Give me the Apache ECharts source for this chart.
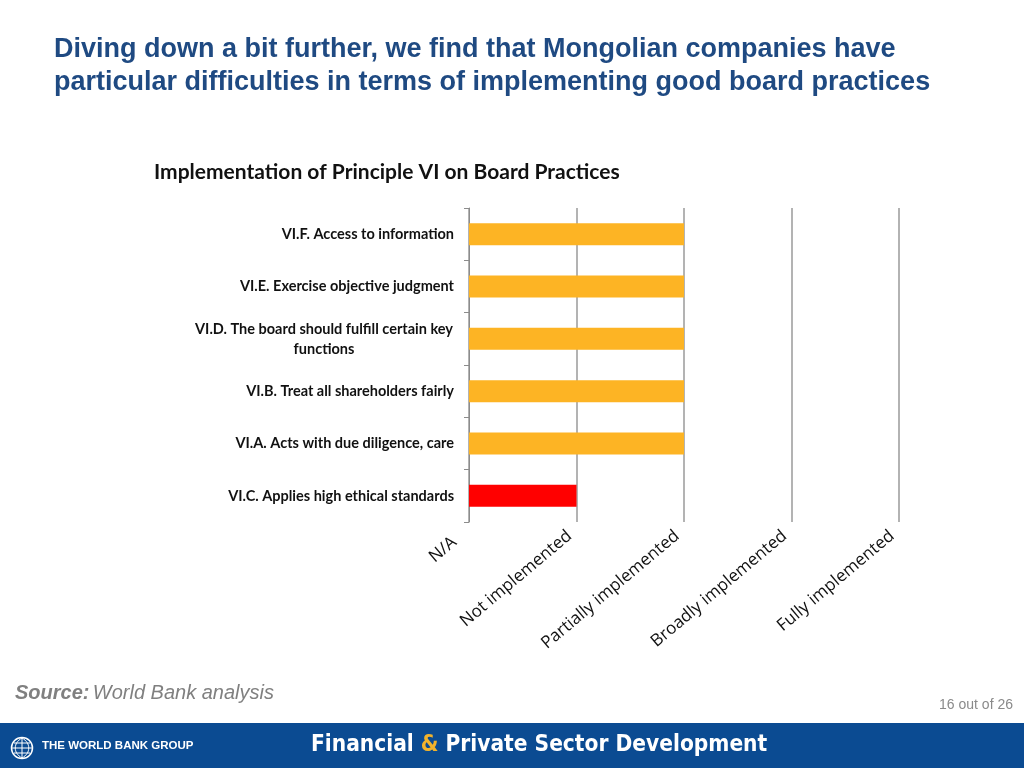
<!DOCTYPE html>
<html>
<head>
<meta charset="utf-8">
<title>Implementation of Principle VI on Board Practices</title>
<script src="https://cdn.jsdelivr.net/npm/echarts@6/dist/echarts.min.js"></script>
<style>
    html, body { margin: 0; padding: 0; background: #fff; }
    #chart { width: 1024px; height: 768px; }
</style>
</head>
<body>
<div id="chart"></div>
<script>
// 原则 VI 各条款（从上到下）
var principles = [
    'VI.F. Access to information',
    'VI.E. Exercise objective judgment',
    'VI.D. The board should fulfill certain key functions',
    'VI.B. Treat all shareholders fairly',
    'VI.A. Acts with due diligence, care',
    'VI.C. Applies high ethical standards'
];
// 实施评级 0 = N/A ... 4 = Fully implemented
var ratings = [2, 2, 2, 2, 2, 1];
var ratingLabels = ['N/A', 'Not implemented', 'Partially implemented', 'Broadly implemented', 'Fully implemented'];

var chart = echarts.init(document.getElementById('chart'));

var option = {
    backgroundColor: '#ffffff',
    animation: false,
    title: {
        text: 'Implementation of Principle VI on Board Practices',
        left: 149,
        top: 157,
        textStyle: {
            fontFamily: 'Lato',
            fontWeight: 'bold',
            fontSize: 21,
            color: '#111111'
        }
    },
    grid: {
        left: 469,
        top: 208,
        width: 430,
        height: 314
    },
    xAxis: {
        type: 'value',
        min: 0,
        max: 4,
        interval: 1,
        axisLine: {show: false},
        axisTick: {show: false},
        splitLine: {
            show: true,
            lineStyle: {color: '#9a9a9a', width: 1.5}
        },
        axisLabel: {
            rotate: 40,
            margin: 6,
            padding: [0, 9, 0, 0],
            fontFamily: 'Open Sans',
            fontSize: 17,
            color: '#111111',
            formatter: function(v) {
                if (v === 0) {
                    return '{na|' + ratingLabels[0] + '}';
                }
                return ratingLabels[v] || '';
            },
            rich: {
                na: {
                    padding: [0, 10, 0, 0],
                    fontFamily: 'Open Sans',
                    fontSize: 17,
                    color: '#111111'
                }
            }
        }
    },
    yAxis: {
        type: 'category',
        inverse: true,
        data: principles,
        axisLine: {
            show: true,
            lineStyle: {color: '#8c8c8c', width: 1}
        },
        axisTick: {
            show: true,
            length: 5,
            lineStyle: {color: '#8c8c8c'}
        },
        axisLabel: {
            margin: 15,
            fontFamily: 'Lato',
            fontWeight: 'bold',
            fontSize: 14.5,
            color: '#111111',
            lineHeight: 20,
            formatter: function(v) {
                if (v.indexOf('certain key') > -1) {
                    // 两行标签，第二行居中
                    return '{c|VI.D. The board should fulfill certain key}\n{c|functions}';
                }
                return v;
            },
            rich: {
                c: {
                    width: 260,
                    align: 'center',
                    fontFamily: 'Lato',
                    fontWeight: 'bold',
                    fontSize: 14.5,
                    color: '#111111',
                    lineHeight: 20
                }
            }
        },
        splitLine: {show: false}
    },
    series: [
        {
            type: 'bar',
            data: ratings,
            barWidth: 22,
            itemStyle: {
                color: function(p) {
                    return p.value <= 1 ? '#ff0000' : '#fdb424';
                }
            }
        }
    ],
    graphic: [
        {
            type: 'text',
            left: 54,
            top: 33,
            style: {
                text: 'Diving down a bit further, we find that Mongolian companies have\nparticular difficulties in terms of implementing good board practices',
                font: 'bold 27px "Liberation Sans", Arial, sans-serif',
                fill: '#1f4a82',
                lineHeight: 33
            }
        },
        {
            type: 'text',
            left: 15,
            top: 683,
            style: {
                rich: {
                    b: {font: 'bold italic 20px "Liberation Sans", Arial, sans-serif', fill: '#808080'},
                    n: {font: 'italic 20px "Liberation Sans", Arial, sans-serif', fill: '#808080'}
                },
                text: '{b|Source:} {n|World Bank analysis}'
            }
        },
        {
            type: 'text',
            right: 11,
            top: 698,
            style: {
                text: '16 out of 26',
                font: '14px "Liberation Sans", Arial, sans-serif',
                fill: '#8a8a8a'
            }
        },
        {
            type: 'rect',
            shape: {x: 0, y: 723, width: 1024, height: 45},
            style: {fill: '#0b4b92'}
        },
        {
            type: 'group',
            left: 9,
            top: 735,
            children: [
                {type: 'circle', shape: {cx: 11, cy: 11, r: 10.5}, style: {fill: 'none', stroke: '#ffffff', lineWidth: 1.5}},
                {type: 'line', shape: {x1: 1, y1: 11, x2: 21, y2: 11}, style: {stroke: '#ffffff', lineWidth: 1}},
                {type: 'line', shape: {x1: 3, y1: 6, x2: 19, y2: 6}, style: {stroke: '#ffffff', lineWidth: 1}},
                {type: 'line', shape: {x1: 3, y1: 16, x2: 19, y2: 16}, style: {stroke: '#ffffff', lineWidth: 1}},
                {type: 'line', shape: {x1: 11, y1: 1, x2: 11, y2: 21}, style: {stroke: '#ffffff', lineWidth: 1}},
                {type: 'bezierCurve', shape: {x1: 11, y1: 1, x2: 11, y2: 21, cpx1: 2, cpy1: 6, cpx2: 2, cpy2: 16}, style: {fill: 'none', stroke: '#ffffff', lineWidth: 1}},
                {type: 'bezierCurve', shape: {x1: 11, y1: 1, x2: 11, y2: 21, cpx1: 20, cpy1: 6, cpx2: 20, cpy2: 16}, style: {fill: 'none', stroke: '#ffffff', lineWidth: 1}}
            ]
        },
        {
            type: 'text',
            left: 42,
            top: 740,
            style: {
                text: 'THE WORLD BANK GROUP',
                font: 'bold 11.5px "Liberation Sans Narrow", "Liberation Sans", Arial, sans-serif',
                fill: '#ffffff'
            }
        },
        {
            type: 'text',
            left: 311,
            top: 734,
            style: {
                rich: {
                    w: {font: 'bold 22.5px "DejaVu Sans Condensed", "Liberation Sans", sans-serif', fill: '#ffffff'},
                    o: {font: 'bold 22.5px "DejaVu Sans Condensed", "Liberation Sans", sans-serif', fill: '#f2b32c'}
                },
                text: '{w|Financial }{o|&}{w| Private Sector Development}'
            }
        }
    ]
};

chart.setOption(option);
</script>
</body>
</html>
